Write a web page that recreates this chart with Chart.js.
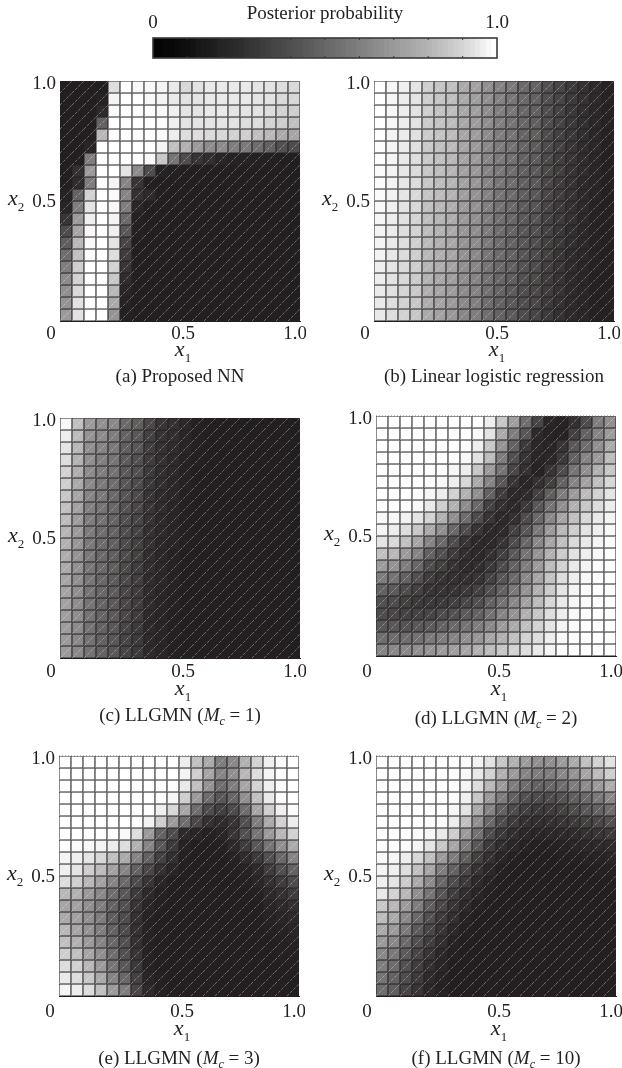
<!DOCTYPE html>
<html><head><meta charset="utf-8">
<style>html,body{margin:0;padding:0;background:#fff;width:622px;height:1068px;overflow:hidden}canvas{position:absolute}</style>
<script src="https://cdn.jsdelivr.net/npm/chart.js@4"></script>
</head><body>
<script>
const xTickValues=[0,0.5,1], xTickLabels=['0','0.5','1.0'];
const yTickValues=[0.5,1], yTickLabels=['0.5','1.0'];
const cbTickValues=[0,1], cbTickLabels=['0','1.0'];
const cbInnerTicks=[0.1,0.2,0.3,0.4,0.5,0.6,0.7,0.8,0.9];
const cbTitle='Posterior probability';
const cbLevels=[.02,.02,.03,.03,.04,.05,.06,.07,.09,.1,.11,.12,.14,.15,.16,.17,.18,.2,.21,.22,.24,.25,.27,.28,.29,.31,.32,.33,.35,.36,.38,.39,.41,.42,.44,.45,.47,.48,.5,.51,.53,.55,.56,.58,.6,.61,.63,.64,.66,.68,.69,.71,.73,.75,.77,.79,.81,.83,.86,.88,.91,.94,.97,1];

const panelA=[
[0,0,0,0,.85,1,.97,.97,.95,.9,.82,.87,.9,.9,.9,.9,.88,.87,.85,.83],
[0,0,0,.02,.95,1,1,.97,.95,.9,.87,.88,.9,.9,.9,.9,.88,.87,.83,.82],
[0,0,0,.05,.98,1,1,1,.97,.93,.88,.88,.9,.9,.88,.88,.87,.85,.8,.78],
[0,0,0,.3,1,1,1,1,.98,.93,.88,.88,.88,.88,.87,.85,.85,.8,.78,.72],
[0,0,0,.68,1,1,1,1,.98,.92,.85,.85,.83,.82,.8,.78,.72,.68,.62,.6],
[0,0,.03,1,1,1,1,1,.95,.72,.65,.55,.48,.48,.42,.4,.35,.3,.22,.2],
[0,0,.42,1,1,1,1,.97,.75,.38,.2,.1,.07,.03,.02,.02,.01,.01,0,0],
[0,.08,.55,1,1,.88,.48,.2,.02,.01,0,0,0,0,0,0,0,0,0,0],
[0,.06,.42,1,.95,.45,.1,0,0,0,0,0,0,0,0,0,0,0,0,0],
[.02,.3,.8,1,.98,.45,.08,.05,0,0,0,0,0,0,0,0,0,0,0,0],
[.03,.42,.88,1,.97,.42,.03,0,0,0,0,0,0,0,0,0,0,0,0,0],
[.1,.55,.93,1,.95,.33,.01,0,0,0,0,0,0,0,0,0,0,0,0,0],
[.2,.6,.97,1,.93,.25,.01,0,0,0,0,0,0,0,0,0,0,0,0,0],
[.28,.68,.97,1,.88,.17,0,0,0,0,0,0,0,0,0,0,0,0,0,0],
[.35,.72,.98,1,.85,.13,0,0,0,0,0,0,0,0,0,0,0,0,0,0],
[.42,.78,1,1,.8,.1,0,0,0,0,0,0,0,0,0,0,0,0,0,0],
[.48,.8,1,1,.75,.06,0,0,0,0,0,0,0,0,0,0,0,0,0,0],
[.5,.83,1,1,.68,.03,0,0,0,0,0,0,0,0,0,0,0,0,0,0],
[.52,.87,1,1,.62,.02,0,0,0,0,0,0,0,0,0,0,0,0,0,0],
[.55,.87,1,1,.52,.01,0,0,0,0,0,0,0,0,0,0,0,0,0,0]];

const panelB=[
[1,.96,.93,.88,.78,.74,.72,.62,.58,.5,.44,.4,.33,.3,.22,.17,.12,.08,.05,.02],
[1,.96,.92,.88,.78,.74,.71,.62,.57,.5,.44,.39,.33,.29,.22,.17,.12,.08,.05,.02],
[1,.96,.92,.87,.78,.73,.71,.61,.57,.49,.43,.39,.32,.29,.21,.16,.11,.07,.04,.02],
[1,.96,.92,.87,.77,.73,.7,.61,.56,.49,.43,.38,.32,.28,.21,.16,.11,.07,.04,.02],
[1,.95,.91,.86,.77,.73,.7,.6,.56,.48,.42,.38,.31,.28,.2,.15,.11,.07,.04,.02],
[.99,.95,.91,.86,.76,.72,.69,.6,.55,.47,.41,.37,.31,.27,.2,.15,.1,.06,.04,.01],
[.99,.95,.9,.85,.76,.72,.68,.59,.55,.46,.41,.36,.3,.27,.19,.14,.1,.06,.03,.01],
[.98,.94,.89,.84,.75,.71,.67,.58,.54,.45,.4,.35,.29,.26,.19,.14,.09,.06,.03,.01],
[.98,.94,.89,.84,.75,.7,.67,.58,.53,.45,.39,.35,.29,.26,.18,.13,.09,.05,.03,.01],
[.98,.94,.88,.83,.74,.7,.66,.57,.52,.44,.38,.34,.28,.25,.18,.13,.09,.05,.03,.01],
[.97,.93,.87,.82,.72,.68,.64,.55,.51,.43,.37,.33,.27,.24,.17,.12,.08,.05,.02,.01],
[.96,.92,.86,.81,.71,.67,.63,.54,.5,.42,.36,.32,.26,.23,.16,.12,.08,.04,.02,.01],
[.95,.91,.85,.8,.7,.66,.62,.53,.49,.41,.35,.31,.25,.22,.16,.11,.07,.04,.02,.01],
[.95,.9,.85,.79,.69,.65,.61,.52,.48,.4,.35,.3,.25,.21,.15,.11,.07,.04,.02,.01],
[.94,.89,.84,.78,.68,.64,.6,.51,.47,.39,.34,.3,.24,.2,.15,.1,.06,.04,.02,.01],
[.93,.88,.83,.78,.67,.63,.59,.5,.46,.38,.33,.29,.23,.2,.14,.1,.06,.03,.02,.01],
[.92,.87,.82,.77,.66,.61,.57,.49,.45,.37,.32,.28,.22,.19,.13,.09,.05,.03,.01,.01],
[.91,.86,.81,.76,.64,.6,.56,.48,.44,.36,.31,.27,.21,.18,.13,.09,.05,.03,.01,.01],
[.9,.85,.8,.75,.63,.59,.55,.47,.43,.35,.3,.26,.21,.18,.12,.08,.05,.03,.01,.01],
[.9,.85,.8,.75,.62,.58,.54,.46,.42,.35,.3,.26,.2,.17,.12,.08,.05,.03,.01,.01]];

const panelC=[
[.97,.72,.55,.5,.47,.33,.28,.18,.1,.08,.04,.01,0,0,0,0,0,0,0,0],
[.92,.7,.52,.48,.42,.3,.25,.15,.09,.07,.03,.01,0,0,0,0,0,0,0,0],
[.88,.68,.5,.45,.4,.28,.25,.14,.08,.06,.03,.01,0,0,0,0,0,0,0,0],
[.85,.66,.5,.43,.38,.27,.22,.13,.08,.05,.02,.01,0,0,0,0,0,0,0,0],
[.8,.64,.48,.42,.37,.26,.22,.12,.07,.05,.02,0,0,0,0,0,0,0,0,0],
[.78,.62,.47,.4,.35,.25,.2,.11,.07,.04,.02,0,0,0,0,0,0,0,0,0],
[.75,.6,.45,.4,.33,.24,.19,.1,.06,.04,.01,0,0,0,0,0,0,0,0,0],
[.72,.58,.43,.38,.32,.23,.18,.1,.06,.03,.01,0,0,0,0,0,0,0,0,0],
[.7,.56,.42,.37,.31,.22,.17,.09,.05,.03,.01,0,0,0,0,0,0,0,0,0],
[.67,.55,.41,.35,.3,.21,.16,.08,.05,.03,.01,0,0,0,0,0,0,0,0,0],
[.65,.53,.4,.34,.29,.2,.15,.08,.04,.03,.01,0,0,0,0,0,0,0,0,0],
[.63,.52,.4,.33,.28,.2,.15,.07,.04,.02,0,0,0,0,0,0,0,0,0,0],
[.62,.51,.39,.33,.28,.19,.14,.07,.04,.02,0,0,0,0,0,0,0,0,0,0],
[.6,.5,.39,.32,.27,.19,.14,.06,.04,.02,0,0,0,0,0,0,0,0,0,0],
[.59,.5,.38,.32,.27,.18,.13,.06,.03,.02,0,0,0,0,0,0,0,0,0,0],
[.58,.49,.38,.31,.26,.18,.13,.06,.03,.02,0,0,0,0,0,0,0,0,0,0],
[.57,.49,.38,.31,.26,.18,.13,.05,.03,.01,0,0,0,0,0,0,0,0,0,0],
[.56,.48,.37,.3,.25,.17,.12,.05,.03,.01,0,0,0,0,0,0,0,0,0,0],
[.55,.47,.37,.3,.25,.17,.12,.05,.03,.01,0,0,0,0,0,0,0,0,0,0],
[.55,.47,.37,.3,.25,.17,.12,.05,.03,.01,0,0,0,0,0,0,0,0,0,0]];

const panelD=[
[1,1,1,1,1,1,1,1,1,.93,.75,.57,.35,.17,.03,.02,.08,.2,.42,.5],
[1,1,1,1,1,1,1,1,.98,.88,.62,.42,.25,.05,.02,.02,.15,.3,.45,.55],
[1,1,1,1,1,1,1,.99,.93,.75,.52,.3,.12,.04,.03,.1,.25,.35,.5,.62],
[1,1,1,1,1,1,.99,.97,.87,.7,.42,.22,.1,.03,.04,.12,.3,.45,.55,.7],
[1,1,1,1,1,.99,.96,.92,.75,.55,.38,.18,.08,.02,.1,.2,.38,.5,.65,.75],
[1,1,1,1,.99,.97,.92,.82,.62,.45,.25,.1,.03,.08,.15,.3,.45,.58,.72,.82],
[1,1,1,.99,.96,.92,.8,.65,.5,.3,.13,.05,.06,.15,.28,.42,.55,.7,.8,.88],
[1,.99,.98,.97,.9,.78,.65,.48,.33,.15,.08,.05,.12,.25,.38,.5,.65,.75,.85,.92],
[.97,.97,.94,.88,.8,.65,.5,.35,.2,.1,.05,.08,.2,.33,.47,.6,.72,.82,.9,.95],
[.95,.92,.85,.75,.62,.5,.33,.2,.1,.05,.06,.15,.25,.4,.55,.68,.78,.87,.93,.97],
[.88,.83,.72,.6,.45,.33,.2,.1,.05,.05,.1,.2,.32,.47,.6,.72,.83,.9,.95,.98],
[.72,.68,.55,.45,.3,.22,.13,.07,.05,.08,.15,.25,.38,.52,.65,.77,.87,.93,.97,.99],
[.55,.52,.42,.32,.2,.15,.09,.06,.07,.12,.2,.3,.42,.55,.7,.8,.9,.95,.98,1],
[.42,.38,.3,.22,.14,.1,.08,.08,.1,.16,.25,.33,.47,.6,.73,.85,.92,.97,.99,1],
[.3,.27,.2,.15,.1,.1,.1,.12,.15,.22,.3,.4,.52,.65,.77,.88,.95,.98,1,1],
[.22,.2,.15,.12,.12,.12,.15,.18,.22,.3,.37,.47,.58,.7,.82,.9,.96,.98,1,1],
[.2,.18,.16,.16,.17,.2,.22,.27,.3,.37,.45,.52,.65,.75,.85,.92,.97,.99,1,1],
[.25,.25,.23,.25,.27,.3,.33,.37,.42,.47,.55,.62,.72,.8,.88,.95,.98,1,1,1],
[.35,.35,.35,.37,.4,.42,.45,.5,.53,.6,.65,.72,.8,.85,.92,.97,.99,1,1,1],
[.45,.47,.47,.5,.52,.55,.57,.6,.65,.7,.75,.8,.85,.9,.95,.98,1,1,1,1]];

const panelE=[
[1,1,1,1,1,1,1,1,1,1,.92,.72,.62,.42,.47,.65,.8,.93,.98,1],
[1,1,1,1,1,1,1,1,1,1,.95,.78,.6,.45,.5,.68,.85,.95,.99,1],
[1,1,1,1,1,1,1,1,1,.99,.9,.72,.52,.35,.42,.6,.8,.93,.98,1],
[1,1,1,1,1,1,1,1,.99,.96,.78,.55,.35,.25,.32,.5,.72,.9,.98,1],
[1,1,1,1,1,1,1,.99,.93,.82,.6,.35,.2,.15,.2,.35,.6,.78,.93,.98],
[1,1,1,1,1,1,.99,.94,.78,.55,.35,.18,.08,.06,.1,.22,.42,.62,.8,.92],
[1,1,1,1,1,.97,.85,.55,.3,.2,.05,.03,.01,.03,.1,.22,.38,.55,.68,.8],
[1,.98,.97,.95,.92,.85,.65,.45,.25,.12,.02,0,0,.01,.05,.13,.25,.38,.5,.62],
[.95,.93,.88,.82,.72,.62,.45,.3,.15,.07,.01,0,0,0,.02,.06,.12,.22,.33,.45],
[.93,.88,.78,.7,.58,.45,.3,.18,.08,.03,0,0,0,0,.01,.02,.05,.13,.22,.3],
[.85,.78,.68,.58,.45,.33,.2,.1,.03,0,0,0,0,0,0,.01,.03,.08,.13,.2],
[.68,.65,.55,.47,.35,.25,.13,.05,.01,0,0,0,0,0,0,0,.01,.05,.08,.13],
[.6,.58,.5,.42,.3,.22,.1,.03,.01,0,0,0,0,0,0,0,0,.03,.05,.08],
[.62,.58,.5,.42,.28,.2,.08,.02,0,0,0,0,0,0,0,0,0,.02,.03,.05],
[.68,.6,.52,.43,.3,.2,.08,.02,0,0,0,0,0,0,0,0,0,.01,.02,.03],
[.72,.65,.55,.45,.32,.22,.08,.02,0,0,0,0,0,0,0,0,0,0,.01,.02],
[.78,.72,.6,.5,.35,.22,.1,.02,0,0,0,0,0,0,0,0,0,0,.01,.01],
[.85,.8,.68,.55,.38,.25,.12,.02,0,0,0,0,0,0,0,0,0,0,0,.01],
[.9,.85,.75,.62,.45,.32,.15,.03,.01,0,0,0,0,0,0,0,0,0,0,0],
[.95,.92,.85,.72,.55,.42,.18,.05,.01,0,0,0,0,0,0,0,0,0,0,0]];

const panelF=[
[1,1,1,1,1,1,.99,.98,.94,.87,.75,.65,.55,.5,.5,.55,.62,.72,.8,.87],
[1,1,1,1,1,1,.99,.97,.9,.8,.65,.55,.45,.42,.42,.47,.52,.6,.7,.78],
[1,1,1,1,1,1,.99,.95,.85,.68,.55,.42,.35,.3,.32,.35,.42,.48,.55,.63],
[1,1,1,1,1,1,.98,.93,.75,.55,.42,.3,.22,.2,.2,.23,.28,.33,.4,.47],
[1,1,1,1,1,.99,.96,.87,.62,.45,.3,.2,.15,.12,.13,.15,.2,.25,.3,.35],
[1,1,1,1,.99,.98,.92,.72,.5,.33,.2,.13,.08,.07,.08,.1,.12,.15,.18,.22],
[1,1,.99,.98,.96,.9,.78,.55,.37,.2,.12,.07,.04,.03,.04,.05,.06,.08,.1,.12],
[.99,.99,.98,.95,.88,.75,.6,.42,.25,.13,.07,.04,.02,.01,.01,.02,.03,.04,.05,.06],
[.97,.96,.92,.82,.72,.55,.42,.28,.15,.08,.03,.01,0,0,0,.01,.01,.02,.02,.03],
[.95,.93,.85,.72,.6,.42,.3,.18,.09,.04,.01,0,0,0,0,0,0,0,.01,.01],
[.93,.88,.77,.62,.48,.32,.2,.12,.05,.02,0,0,0,0,0,0,0,0,0,0],
[.9,.8,.68,.5,.38,.24,.14,.07,.03,.01,0,0,0,0,0,0,0,0,0,0],
[.75,.68,.55,.42,.28,.18,.1,.05,.01,0,0,0,0,0,0,0,0,0,0,0],
[.7,.62,.47,.33,.22,.13,.07,.02,0,0,0,0,0,0,0,0,0,0,0,0],
[.62,.55,.4,.27,.18,.1,.04,.01,0,0,0,0,0,0,0,0,0,0,0,0],
[.55,.47,.33,.22,.14,.07,.02,0,0,0,0,0,0,0,0,0,0,0,0,0],
[.47,.4,.27,.17,.1,.04,.01,0,0,0,0,0,0,0,0,0,0,0,0,0],
[.42,.35,.22,.14,.07,.03,0,0,0,0,0,0,0,0,0,0,0,0,0,0],
[.38,.3,.2,.12,.05,.02,0,0,0,0,0,0,0,0,0,0,0,0,0,0],
[.35,.28,.17,.1,.04,.01,0,0,0,0,0,0,0,0,0,0,0,0,0,0]];

// text runs: i = italic, s = subscript
const captionA=[{t:'(a) Proposed NN'}];
const captionB=[{t:'(b) Linear logistic regression'}];
const captionC=[{t:'(c) LLGMN ('},{t:'M',i:1},{t:'c',i:1,s:1},{t:' = 1)'}];
const captionD=[{t:'(d) LLGMN ('},{t:'M',i:1},{t:'c',i:1,s:1},{t:' = 2)'}];
const captionE=[{t:'(e) LLGMN ('},{t:'M',i:1},{t:'c',i:1,s:1},{t:' = 3)'}];
const captionF=[{t:'(f) LLGMN ('},{t:'M',i:1},{t:'c',i:1,s:1},{t:' = 10)'}];

// layout only
const FONT='"Liberation Serif"';
const PANELS=[
 {z:panelA,cap:captionA,x:60, y:81, tp:2,tx:31,cy:56,dots:false},
 {z:panelB,cap:captionB,x:374,y:81, tp:2,tx:31,cy:56,dots:false},
 {z:panelC,cap:captionC,x:60, y:418,tp:3,tx:33,cy:58,dots:false},
 {z:panelD,cap:captionD,x:376,y:416,tp:5,tx:35,cy:63,dots:true},
 {z:panelE,cap:captionE,x:59, y:756,tp:5,tx:35,cy:63,dots:true},
 {z:panelF,cap:captionF,x:376,y:756,tp:5,tx:35,cy:63,dots:true}];
const SIZE=240,LEFT=60,TOP=10,BOTTOM=72,RIGHT=6;
const XSHIFT=[-9,3,-5], YSHIFT=[1,3];

function grey(v){return `rgb(${Math.round(35+220*v)},${Math.round(31+224*v)},${Math.round(32+223*v)})`;}
function greyBar(v){const g=Math.round(v*255);return `rgb(${g},${g},${g})`;}
function setupScale(scale,shift,axis){
  scale.paddingLeft=scale.paddingRight=scale.paddingTop=scale.paddingBottom=0;
  if(shift&&!scale._shifted){
    scale._shifted=true;
    const orig=scale._computeLabelItems.bind(scale);
    scale._computeLabelItems=function(a){const items=orig(a);items.forEach((it,i)=>{it.options.translation[axis]+=shift[i]||0;});return items;};
  }
}
function runsWidth(ctx,runs,size,subSize){
  let w=0;runs.forEach(r=>{ctx.font=`${r.i?'italic ':''}${r.s?subSize:size}px ${FONT}`;w+=ctx.measureText(r.t).width;});return w;
}
function drawRuns(ctx,runs,x,y,size,subSize,subDy){
  ctx.save();ctx.fillStyle='#231f20';ctx.textBaseline='alphabetic';ctx.textAlign='left';
  let cx=x;runs.forEach(r=>{ctx.font=`${r.i?'italic ':''}${r.s?subSize:size}px ${FONT}`;ctx.fillText(r.t,cx,y+(r.s?subDy:0));cx+=ctx.measureText(r.t).width;});
  ctx.restore();
}
const panelPlugin={id:'panelExtras',afterDatasetsDraw(chart,args,opts){
  const ctx=chart.ctx,xs=chart.scales.xv,ys=chart.scales.y;
  ctx.save();ctx.strokeStyle='rgba(255,255,255,0.5)';ctx.lineWidth=0.7;ctx.setLineDash([3,1.5]);
  for(let r=0;r<20;r++)for(let c=0;c<20;c++){
    ctx.beginPath();ctx.moveTo(xs.getPixelForValue(c/20),ys.getPixelForValue((19-r)/20));
    ctx.lineTo(xs.getPixelForValue((c+1)/20),ys.getPixelForValue((20-r)/20));ctx.stroke();
  }
  if(opts.dots){ctx.strokeStyle='#777';ctx.lineWidth=1;ctx.setLineDash([1,2]);ctx.beginPath();ctx.moveTo(xs.left,ys.top);ctx.lineTo(xs.right,ys.top);ctx.stroke();}
  ctx.restore();
},afterDraw(chart,args,opts){
  const ctx=chart.ctx,xs=chart.scales.xv,ys=chart.scales.y;
  const xr=[{t:'x',i:1},{t:'1',s:1}];
  const xw=runsWidth(ctx,xr,22,13);
  drawRuns(ctx,xr,(xs.left+xs.right)/2+3-xw/2,ys.bottom+opts.tx+4,22,13,6);
  const yr=[{t:'x',i:1},{t:'2',s:1}];
  drawRuns(ctx,yr,xs.left-52,ys.getPixelForValue(0.5)+4,22,13,6);
  const cw=runsWidth(ctx,opts.cap,19,12);
  drawRuns(ctx,opts.cap,(xs.left+xs.right)/2-cw/2,ys.bottom+opts.cy+5,19,12,4);
}};
Chart.defaults.animation=false;
PANELS.forEach(p=>{
  const cv=document.createElement('canvas');
  cv.width=LEFT+SIZE+RIGHT;cv.height=TOP+SIZE+BOTTOM;
  cv.style.left=(p.x-LEFT)+'px';cv.style.top=(p.y-TOP)+'px';
  document.body.appendChild(cv);
  const cats=p.z[0].map((_,c)=>c);
  const datasets=p.z.map((row,r)=>({
    data:row.map(()=>[(19-r)/20,(20-r)/20]),
    backgroundColor:row.map(grey),
    borderColor:'#262223',borderWidth:0.85,borderSkipped:false,
    grouped:false,categoryPercentage:1,barPercentage:1
  }));
  new Chart(cv,{type:'bar',data:{labels:cats,datasets},plugins:[panelPlugin],options:{
    responsive:false,devicePixelRatio:1,
    layout:{padding:{left:0,right:RIGHT,top:TOP,bottom:0}},
    plugins:{legend:{display:false},tooltip:{enabled:false},panelExtras:{cap:p.cap,tx:p.tx,cy:p.cy,dots:p.dots}},
    scales:{
      x:{type:'category',display:false,offset:true},
      xv:{type:'linear',axis:'x',position:'bottom',min:0,max:1,offset:false,
        grid:{display:false,drawTicks:false,offset:false},border:{display:true,color:'#231f20',width:1},
        afterBuildTicks(s){s.ticks=xTickValues.map(v=>({value:v}));},
        afterFit(s){s.height=BOTTOM;setupScale(s,XSHIFT,0);},
        ticks:{autoSkip:false,maxRotation:0,padding:p.tp,color:'#231f20',font:{family:FONT,size:19},
          callback:v=>xTickLabels[xTickValues.indexOf(v)]}},
      y:{type:'linear',position:'left',min:0,max:1,
        grid:{display:false,drawTicks:false},border:{display:true,color:'#231f20',width:1},
        afterBuildTicks(s){s.ticks=yTickValues.map(v=>({value:v}));},
        afterFit(s){s.width=LEFT;setupScale(s,YSHIFT,1);},
        ticks:{autoSkip:false,maxRotation:0,padding:4,color:'#231f20',font:{family:FONT,size:19},
          callback:v=>yTickLabels[yTickValues.indexOf(v)]}}
    }}});
});
// colour bar
const cbPlugin={id:'cbExtras',afterDatasetsDraw(chart){
  const ctx=chart.ctx,s=chart.scales.xv,a=chart.chartArea;
  ctx.save();ctx.strokeStyle='#333';ctx.lineWidth=1;
  cbInnerTicks.forEach(v=>{const x=s.getPixelForValue(v);ctx.beginPath();ctx.moveTo(x,a.top);ctx.lineTo(x,a.top+2);ctx.moveTo(x,a.bottom);ctx.lineTo(x,a.bottom-2);ctx.stroke();});
  ctx.strokeStyle='#3a3a3a';ctx.lineWidth=1.6;ctx.strokeRect(a.left,a.top,a.right-a.left,a.bottom-a.top);
  ctx.restore();
}};
const cb=document.createElement('canvas');cb.width=400;cb.height=65;cb.style.left='130px';cb.style.top='0px';document.body.appendChild(cb);
new Chart(cb,{type:'bar',data:{labels:cbLevels.map((_,i)=>i),datasets:[{data:cbLevels.map(()=>[0,1]),backgroundColor:cbLevels.map(greyBar),borderWidth:0,categoryPercentage:1,barPercentage:1.2}]},plugins:[cbPlugin],options:{
  responsive:false,devicePixelRatio:1,
  layout:{padding:{left:23,right:33,top:0,bottom:7}},
  plugins:{legend:{display:false},tooltip:{enabled:false}},
  scales:{
    x:{type:'category',display:false,offset:true},
    y:{display:false,min:0,max:1},
    xv:{type:'linear',axis:'x',position:'top',min:0,max:1,offset:false,
      grid:{display:false,drawTicks:false,offset:false},border:{display:false},
      title:{display:true,text:cbTitle,color:'#231f20',font:{family:FONT,size:19},padding:{top:3,bottom:0}},
      afterBuildTicks(s){s.ticks=cbTickValues.map(v=>({value:v}));},
      afterFit(s){s.height=38;setupScale(s,null,0);},
      ticks:{autoSkip:false,maxRotation:0,padding:4,color:'#231f20',font:{family:FONT,size:19},
        callback:v=>cbTickLabels[cbTickValues.indexOf(v)]}}
  }}});
</script>
</body></html>
